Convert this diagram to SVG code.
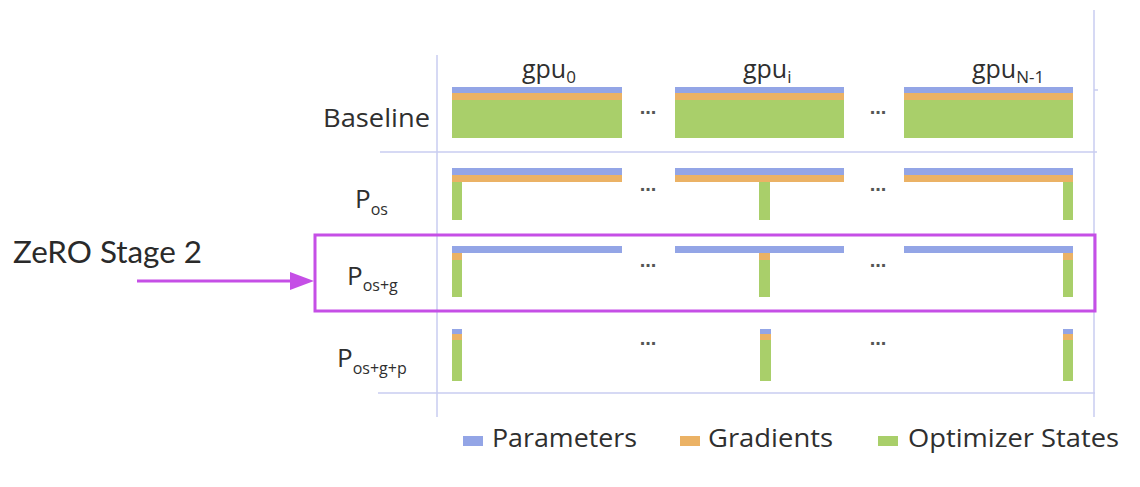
<svg xmlns="http://www.w3.org/2000/svg" width="1140" height="487" viewBox="0 0 1140 487">
<style>
  .lbl { font-family: "Open Sans", "DejaVu Sans", sans-serif; fill: #2f2f2f; }
  .big { font-size: 25px; }
  .sub { font-size: 16px; }
  .gsub { font-size: 17px; }
  .dots { font-family: "Liberation Sans", sans-serif; font-size: 20px; font-weight: bold; fill: #555; text-anchor: middle; }
  .grid { stroke: #c9cdf0; stroke-width: 1.5; fill: none; }
  .p { fill: #93a5e6; }
  .g { fill: #ebb265; }
  .o { fill: #a9cf6a; }
  .hl { stroke: #c54fe6; stroke-width: 3; fill: none; }
</style>
<rect width="1140" height="487" fill="#ffffff"/>

<g id="grid">
  <line class="grid" x1="437" y1="55" x2="437" y2="417"/>
  <line class="grid" x1="1094" y1="10" x2="1094" y2="417"/>
  <line class="grid" x1="380" y1="152" x2="1097" y2="152"/>
  <line class="grid" x1="378" y1="393" x2="1095" y2="393"/>
  <line class="grid" x1="1094" y1="90" x2="1098" y2="90"/>
</g>

<g id="gpu-headers" class="lbl">
  <text x="522" y="78" class="big">gpu<tspan class="gsub" dy="5">0</tspan></text>
  <text x="743" y="78" class="big">gpu<tspan class="gsub" dy="5">i</tspan></text>
  <text x="972" y="78" class="big">gpu<tspan class="gsub" dy="5">N-1</tspan></text>
</g>

<g id="row-baseline">
  <text class="lbl big" x="323" y="127" textLength="107" lengthAdjust="spacingAndGlyphs">Baseline</text>
  <rect class="p" x="452" y="87" width="170" height="6"/>
  <rect class="g" x="452" y="93" width="170" height="7"/>
  <rect class="o" x="452" y="100" width="170" height="38"/>
  <rect class="p" x="675" y="87" width="169" height="6"/>
  <rect class="g" x="675" y="93" width="169" height="7"/>
  <rect class="o" x="675" y="100" width="169" height="38"/>
  <rect class="p" x="904" y="87" width="169" height="6"/>
  <rect class="g" x="904" y="93" width="169" height="7"/>
  <rect class="o" x="904" y="100" width="169" height="38"/>
  <text class="dots" x="648" y="114">...</text>
  <text class="dots" x="878" y="114">...</text>
</g>

<g id="row-pos">
  <text class="lbl" x="355" y="208" font-size="26">P<tspan class="sub" dy="7">os</tspan></text>
  <rect class="p" x="452" y="168" width="170" height="7"/>
  <rect class="g" x="452" y="175" width="170" height="7"/>
  <rect class="o" x="452" y="182" width="10" height="38"/>
  <rect class="p" x="675" y="168" width="169" height="7"/>
  <rect class="g" x="675" y="175" width="169" height="7"/>
  <rect class="o" x="759" y="182" width="11" height="38"/>
  <rect class="p" x="904" y="168" width="169" height="7"/>
  <rect class="g" x="904" y="175" width="169" height="7"/>
  <rect class="o" x="1063" y="182" width="10" height="38"/>
  <text class="dots" x="648" y="191">...</text>
  <text class="dots" x="878" y="191">...</text>
</g>

<g id="row-posg">
  <text class="lbl" x="347" y="285" font-size="26">P<tspan class="sub" dy="6">os+g</tspan></text>
  <rect class="p" x="452" y="246" width="170" height="7"/>
  <rect class="g" x="452" y="253" width="10" height="7"/>
  <rect class="o" x="452" y="260" width="10" height="37"/>
  <rect class="p" x="675" y="246" width="169" height="7"/>
  <rect class="g" x="759" y="253" width="11" height="7"/>
  <rect class="o" x="759" y="260" width="11" height="37"/>
  <rect class="p" x="904" y="246" width="169" height="7"/>
  <rect class="g" x="1063" y="253" width="10" height="7"/>
  <rect class="o" x="1063" y="260" width="10" height="37"/>
  <text class="dots" x="648" y="267">...</text>
  <text class="dots" x="878" y="267">...</text>
</g>

<g id="row-posgp">
  <text class="lbl" x="337" y="367" font-size="26">P<tspan class="sub" dy="7">os+g+p</tspan></text>
  <rect class="p" x="452" y="329" width="10" height="5"/>
  <rect class="g" x="452" y="334" width="10" height="6"/>
  <rect class="o" x="452" y="340" width="10" height="41"/>
  <rect class="p" x="760" y="329" width="11" height="5"/>
  <rect class="g" x="760" y="334" width="11" height="6"/>
  <rect class="o" x="760" y="340" width="11" height="41"/>
  <rect class="p" x="1063" y="329" width="10" height="5"/>
  <rect class="g" x="1063" y="334" width="10" height="6"/>
  <rect class="o" x="1063" y="340" width="10" height="41"/>
  <text class="dots" x="648" y="345">...</text>
  <text class="dots" x="878" y="345">...</text>
</g>

<g id="stage2-highlight">
  <rect class="hl" x="315" y="235" width="780" height="76"/>
</g>

<g id="stage2-label">
  <text x="13" y="263" font-family="Lato, 'Open Sans', sans-serif" font-size="30" fill="#2a2a2a" textLength="189" lengthAdjust="spacingAndGlyphs">ZeRO Stage 2</text>
</g>

<g id="connectors">
  <line x1="137" y1="281" x2="293" y2="281" stroke="#c54fe6" stroke-width="3"/>
  <polygon points="290,272 314,281 290,290" fill="#c54fe6"/>
</g>

<g id="legend" class="lbl">
  <rect class="p" x="463" y="436" width="20" height="10"/>
  <text x="492" y="447" font-size="25" textLength="145" lengthAdjust="spacingAndGlyphs">Parameters</text>
  <rect class="g" x="680" y="436" width="20" height="10"/>
  <text x="708" y="447" font-size="25" textLength="125" lengthAdjust="spacingAndGlyphs">Gradients</text>
  <rect class="o" x="878" y="436" width="20" height="10"/>
  <text x="908" y="447" font-size="25" textLength="211" lengthAdjust="spacingAndGlyphs">Optimizer States</text>
</g>
</svg>
